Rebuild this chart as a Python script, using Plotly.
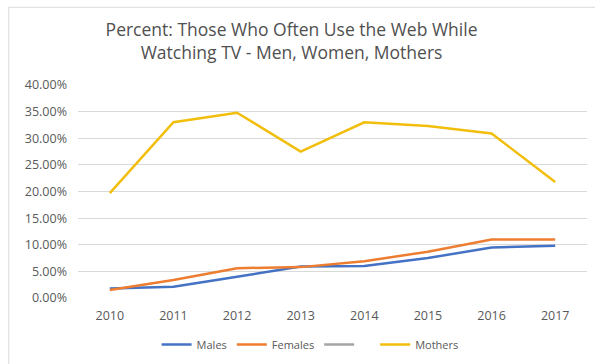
import plotly.graph_objects as go

years = [2010, 2011, 2012, 2013, 2014, 2015, 2016, 2017]
males = [0.018, 0.021, 0.040, 0.059, 0.060, 0.075, 0.095, 0.098]
females = [0.015, 0.034, 0.056, 0.058, 0.069, 0.087, 0.110, 0.110]
unnamed = [None] * len(years)
mothers = [0.197, 0.330, 0.348, 0.275, 0.330, 0.323, 0.309, 0.218]

font_family = "Open Sans, Liberation Sans, sans-serif"
text_color = "#595959"

fig = go.Figure()
series = [
    ("Males", males, "#4472C4"),
    ("Females", females, "#ED7D31"),
    ("\u2003", unnamed, "#A5A5A5"),
    ("Mothers", mothers, "#F2BE0C"),
]
for name, vals, color in series:
    fig.add_trace(go.Scatter(
        x=years, y=vals, name=name, mode="lines",
        line=dict(color=color, width=2.5),
        connectgaps=False,
    ))

fig.update_layout(
    width=595, height=364,
    paper_bgcolor="white", plot_bgcolor="white",
    margin=dict(l=78, r=8, t=85, b=66, autoexpand=False),
    font=dict(family=font_family, color=text_color, size=11),
    title=dict(
        text="Percent: Those Who Often Use the Web While<br>Watching TV - Men, Women, Mothers",
        x=0.49, xanchor="center", y=0.90, yanchor="top",
        font=dict(size=17.5, color="#505050", family=font_family),
    ),
    legend=dict(
        orientation="h", x=0.456, xanchor="center", y=-0.15, yanchor="top",
        font=dict(size=11, color=text_color),
        itemwidth=30,
    ),
    shapes=[dict(
        type="rect", xref="paper", yref="paper",
        x0=-0.136, x1=1.2, y0=-0.5, y1=1.365,
        line=dict(color="#D9D9D9", width=1), layer="above",
    )],
)
fig.update_xaxes(
    range=[2009.5, 2017.5], tickmode="array", tickvals=years,
    ticktext=[str(y) for y in years], showgrid=False, zeroline=False,
    showline=False, tickfont=dict(size=12.5, color=text_color),
    ticklabelstandoff=8,
)
fig.update_yaxes(
    range=[0, 0.40], dtick=0.05, tickformat=".2%",
    gridcolor="#D9D9D9", gridwidth=1, zeroline=False, showline=False,
    tickfont=dict(size=12.5, color=text_color), ticklabelstandoff=10,
)

fig.write_html("out.html")
